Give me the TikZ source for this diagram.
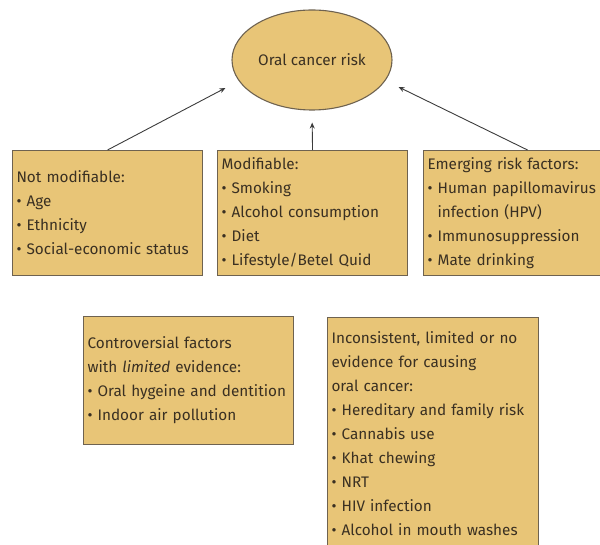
\documentclass[tikz,border=0pt]{standalone}
\usepackage{fontspec}
\setmainfont{Fira Sans}
\usepackage{tikz}
\usetikzlibrary{shapes.geometric, arrows.meta, positioning}
\usepackage{xcolor}
\definecolor{riskTan}{HTML}{E8C577}
\definecolor{edgeBrown}{HTML}{6E6250}
\definecolor{inkBrown}{HTML}{3A3022}
\definecolor{arrowGray}{HTML}{3C3C3C}
\newcommand{\bul}{\textbullet\ }
\newcommand{\hang}{\hphantom{\textbullet\ }}

\begin{document}
\begin{tikzpicture}[
    x=1pt, y=-1pt,
    font=\fontsize{15.3}{24}\selectfont,
    riskbox/.style={rectangle, draw=edgeBrown, line width=1.1pt, fill=riskTan, text=inkBrown, anchor=north west, minimum width=190pt, text width=182pt, align=left, inner sep=4pt},
    riskoval/.style={ellipse, draw=edgeBrown, line width=1.1pt, fill=riskTan, text=inkBrown, minimum width=160pt, minimum height=100pt, inner sep=0pt},
    arrow/.style={-{Stealth[length=6pt, width=5pt]}, line width=0.9pt, arrowGray}
]
\clip (0,0) rectangle (600,545);

% Centre
\node[riskoval] (risk) at (312,60) {Oral cancer risk};

% Top row
\node[riskbox, minimum height=125pt] (fixed) at (12,150) {
Not modifiable:\\
\bul Age\\
\bul Ethnicity\\
\bul Social-economic status
};
\node[riskbox, minimum height=125pt] (modif) at (217,150) {
Modifiable:\\
\bul Smoking\\
\bul Alcohol consumption\\
\bul Diet\\
\bul Lifestyle/Betel Quid
};
\node[riskbox, minimum height=125pt, text width=200pt] (emerg) at (423,150) {
Emerging risk factors:\\
\bul Human papillomavirus\\
\hang infection (HPV)\\
\bul Immunosuppression\\
\bul Mate drinking
};

\draw[arrow] (fixed.north) -- ([xshift=-6pt, yshift=-28pt]risk.west);
\draw[arrow, shorten >=12pt] (modif.north) -- (risk.south);
\draw[arrow] (emerg.north) -- ([xshift=6pt, yshift=-27pt]risk.east);

% Bottom row
\node[riskbox, minimum width=210pt, text width=202pt, minimum height=128pt] (contro) at (83,316) {
Controversial factors\\
with \textit{limited} evidence:\\
\bul Oral hygeine and dentition\\
\bul Indoor air pollution
};
\node[riskbox, minimum width=211pt, text width=203pt, inner ysep=14pt] (incons) at (327,317) {
Inconsistent, limited or no\\
evidence for causing\\
oral cancer:\\
\bul Hereditary and family risk\\
\bul Cannabis use\\
\bul Khat chewing\\
\bul NRT\\
\bul HIV infection\\
\bul Alcohol in mouth washes
};

\end{tikzpicture}
\end{document}
